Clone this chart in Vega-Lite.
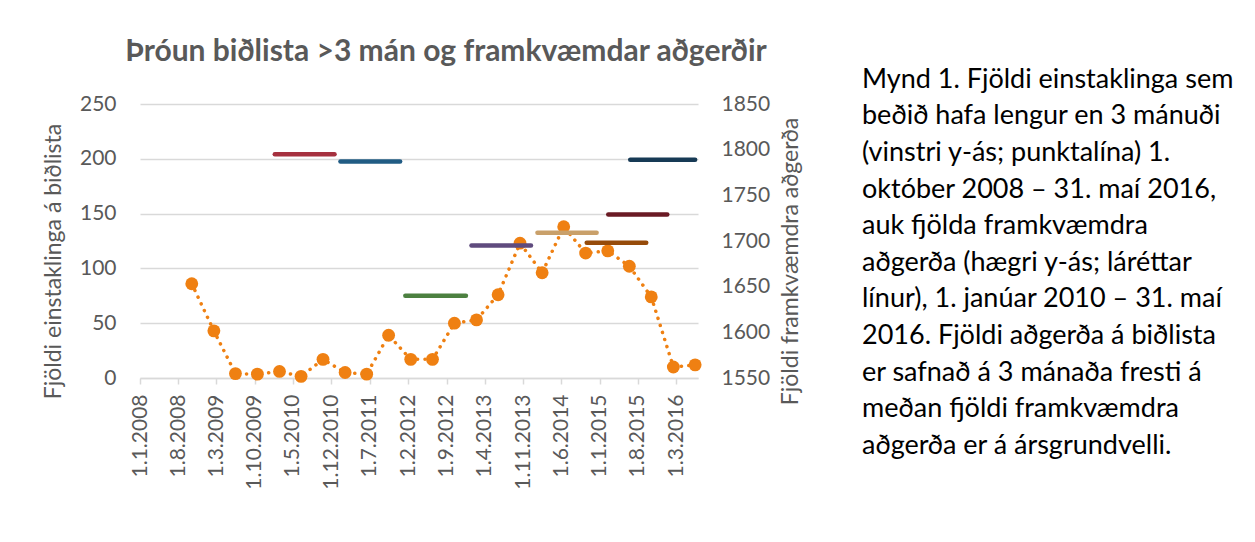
{
  "$schema": "https://vega.github.io/schema/vega-lite/v6.json",
  "background": "white",
  "padding": {"left": 42, "top": 37, "right": 0, "bottom": 0},
  "bounds": "flush",
  "spacing": 164,
  "config": {"font": "Lato", "view": {"stroke": null}},
  "datasets": {
    "wait": [
      {"date": "2008-10-15", "n": 86},
      {"date": "2009-02-15", "n": 43},
      {"date": "2009-06-15", "n": 4},
      {"date": "2009-10-15", "n": 3.5},
      {"date": "2010-02-15", "n": 6},
      {"date": "2010-06-15", "n": 1.5},
      {"date": "2010-10-15", "n": 17},
      {"date": "2011-02-15", "n": 5},
      {"date": "2011-06-15", "n": 3.5},
      {"date": "2011-10-15", "n": 39},
      {"date": "2012-02-15", "n": 17},
      {"date": "2012-06-15", "n": 17},
      {"date": "2012-10-15", "n": 50},
      {"date": "2013-02-15", "n": 53},
      {"date": "2013-06-15", "n": 76},
      {"date": "2013-10-15", "n": 123},
      {"date": "2014-02-15", "n": 96},
      {"date": "2014-06-15", "n": 138},
      {"date": "2014-10-15", "n": 114},
      {"date": "2015-02-15", "n": 116},
      {"date": "2015-06-15", "n": 102},
      {"date": "2015-10-15", "n": 74},
      {"date": "2016-02-15", "n": 10},
      {"date": "2016-06-15", "n": 12}
    ],
    "ops": [
      {"period": "2010", "date": "2010-01-20", "end": "2010-12-18", "ops": 1795},
      {"period": "2011", "date": "2011-01-20", "end": "2011-12-18", "ops": 1787},
      {"period": "2012", "date": "2012-01-16", "end": "2012-12-18", "ops": 1640},
      {"period": "2013", "date": "2013-01-18", "end": "2013-12-15", "ops": 1695},
      {"period": "2014", "date": "2014-01-20", "end": "2014-12-15", "ops": 1709},
      {"period": "okt 2014 - sep 2015", "date": "2014-10-21", "end": "2015-09-17", "ops": 1698},
      {"period": "feb 2015 - jan 2016", "date": "2015-02-18", "end": "2016-01-12", "ops": 1729},
      {"period": "jún 2015 - maí 2016", "date": "2015-06-20", "end": "2016-06-15", "ops": 1789}
    ],
    "caption": [
      {"line": 1, "text": "Mynd 1. Fjöldi einstaklinga sem"},
      {"line": 2, "text": "beðið hafa lengur en 3 mánuði"},
      {"line": 3, "text": "(vinstri y-ás; punktalína) 1."},
      {"line": 4, "text": "október 2008 – 31. maí 2016,"},
      {"line": 5, "text": "auk fjölda framkvæmdra"},
      {"line": 6, "text": "aðgerða (hægri y-ás; láréttar"},
      {"line": 7, "text": "línur), 1. janúar 2010 – 31. maí"},
      {"line": 8, "text": "2016. Fjöldi aðgerða á biðlista"},
      {"line": 9, "text": "er safnað á 3 mánaða fresti á"},
      {"line": 10, "text": "meðan fjöldi framkvæmdra"},
      {"line": 11, "text": "aðgerða er á ársgrundvelli."}
    ]
  },
  "hconcat": [
    {
      "width": 558,
      "height": 274,
      "title": {
        "text": "Þróun biðlista >3 mán og framkvæmdar aðgerðir",
        "font": "Lato",
        "fontSize": 30,
        "fontWeight": "bold",
        "color": "#595959",
        "anchor": "middle",
        "frame": "group",
        "dx": 27,
        "offset": 26
      },
      "encoding": {
        "x": {
          "field": "date",
          "type": "temporal",
          "scale": {
            "type": "utc",
            "domain": [
              {"year": 2008, "month": 1, "date": 1, "utc": true},
              {"year": 2016, "month": 7, "date": 1, "utc": true}
            ]
          },
          "axis": {
            "title": null,
            "values": [
              {"year": 2008, "month": 1, "date": 1, "utc": true},
              {"year": 2008, "month": 8, "date": 1, "utc": true},
              {"year": 2009, "month": 3, "date": 1, "utc": true},
              {"year": 2009, "month": 10, "date": 1, "utc": true},
              {"year": 2010, "month": 5, "date": 1, "utc": true},
              {"year": 2010, "month": 12, "date": 1, "utc": true},
              {"year": 2011, "month": 7, "date": 1, "utc": true},
              {"year": 2012, "month": 2, "date": 1, "utc": true},
              {"year": 2012, "month": 9, "date": 1, "utc": true},
              {"year": 2013, "month": 4, "date": 1, "utc": true},
              {"year": 2013, "month": 11, "date": 1, "utc": true},
              {"year": 2014, "month": 6, "date": 1, "utc": true},
              {"year": 2015, "month": 1, "date": 1, "utc": true},
              {"year": 2015, "month": 8, "date": 1, "utc": true},
              {"year": 2016, "month": 3, "date": 1, "utc": true}
            ],
            "labelExpr": "utcFormat(datum.value, '%-d.%-m.%Y')",
            "labelAngle": 270,
            "labelFontSize": 21,
            "labelColor": "#595959",
            "labelPadding": 10,
            "labelOverlap": false,
            "labelFlush": false,
            "tickColor": "#D9D9D9",
            "tickSize": 6,
            "tickWidth": 1.5,
            "domainColor": "#D9D9D9",
            "domainWidth": 1.5,
            "grid": false
          }
        }
      },
      "layer": [
        {
          "data": {"name": "wait"},
          "encoding": {
            "y": {
              "field": "n",
              "type": "quantitative",
              "scale": {"domain": [0, 250], "nice": false},
              "axis": {
                "title": "Fjöldi einstaklinga á biðlista",
                "values": [0, 50, 100, 150, 200, 250],
                "format": "d",
                "grid": true,
                "gridColor": "#D9D9D9",
                "gridWidth": 1.5,
                "domain": false,
                "ticks": false,
                "tickSize": 0,
                "labelPadding": 24,
                "labelFontSize": 21,
                "labelColor": "#595959",
                "titleFontSize": 23,
                "titleFontWeight": "normal",
                "titleColor": "#595959",
                "titlePadding": 14,
                "titleY": 157
              }
            }
          },
          "layer": [
            {
              "mark": {"type": "line", "color": "#EF8012", "strokeWidth": 3.5, "strokeDash": [0.1, 7.3], "strokeCap": "round"}
            },
            {
              "mark": {"type": "circle", "color": "#EF8012", "size": 165, "opacity": 1}
            }
          ]
        },
        {
          "data": {"name": "ops"},
          "mark": {"type": "rule", "strokeWidth": 4.5, "strokeCap": "round"},
          "encoding": {
            "x2": {"field": "end"},
            "y": {
              "field": "ops",
              "type": "quantitative",
              "scale": {"domain": [1550, 1850], "nice": false, "zero": false},
              "axis": {
                "orient": "right",
                "title": "Fjöldi framkvæmdra aðgerða",
                "values": [1550, 1600, 1650, 1700, 1750, 1800, 1850],
                "format": "d",
                "grid": false,
                "domain": false,
                "ticks": false,
                "tickSize": 0,
                "labelPadding": 23,
                "labelFontSize": 21,
                "labelColor": "#595959",
                "titleAngle": 270,
                "titleBaseline": "top",
                "titleFontSize": 23,
                "titleFontWeight": "normal",
                "titleColor": "#595959",
                "titlePadding": 10,
                "titleY": 157
              }
            },
            "color": {
              "field": "period",
              "type": "nominal",
              "scale": {
                "domain": ["2010", "2011", "2012", "2013", "2014", "okt 2014 - sep 2015", "feb 2015 - jan 2016", "jún 2015 - maí 2016"],
                "range": ["#A5303E", "#215C84", "#4C8040", "#5F4B7E", "#C9A06A", "#964B0A", "#6A1A24", "#173A55"]
              },
              "legend": null
            }
          }
        }
      ],
      "resolve": {"scale": {"y": "independent"}}
    },
    {
      "width": 372,
      "height": 274,
      "data": {"name": "caption"},
      "mark": {"type": "text", "align": "left", "baseline": "alphabetic", "fontSize": 27, "font": "Lato", "color": "#000000"},
      "encoding": {
        "x": {"datum": 0, "type": "quantitative", "scale": {"domain": [0, 1]}, "axis": null},
        "y": {"field": "line", "type": "quantitative", "scale": {"domain": [1.445, 8.931], "reverse": true, "nice": false, "zero": false}, "axis": null},
        "text": {"field": "text", "type": "nominal"}
      }
    }
  ]
}
